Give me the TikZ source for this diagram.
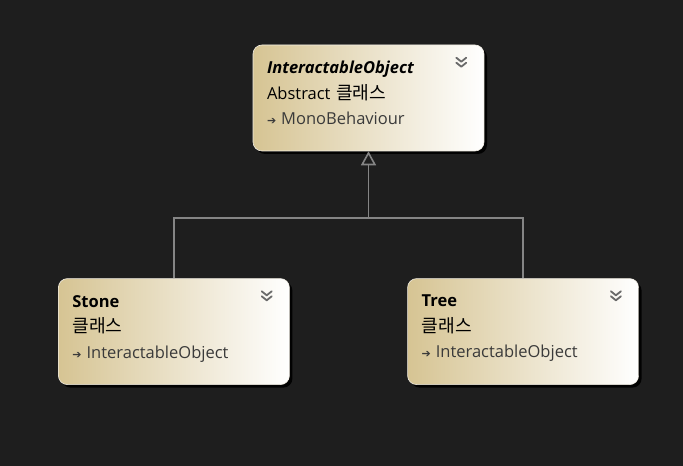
\documentclass[tikz,border=0pt]{standalone}
\usepackage{fontspec}
\setmainfont{Open Sans}
\newfontfamily\krfont[Scale=1.1]{Noto Sans CJK KR}
\newfontfamily\symfont{DejaVu Sans}
\usepackage{xcolor}
\usepackage{tikz}
\usetikzlibrary{arrows.meta,positioning,shadows}
\definecolor{diagbg}{HTML}{1E1E1E}
\definecolor{classtan}{HTML}{D6C493}
\definecolor{classedge}{HTML}{F2EEE4}
\definecolor{classgrey}{HTML}{3A3A3A}
\definecolor{linkgrey}{HTML}{858585}
\definecolor{chevgrey}{HTML}{6A6A6A}
\newcommand{\krtext}[1]{{\krfont #1}}
\newcommand{\basearrow}{{\symfont\fontsize{11}{11}\selectfont\color{classgrey}➔}\hspace{5pt}}
\newcommand{\liftstrut}{\rule[-10pt]{0pt}{1pt}}

\begin{document}
\begin{tikzpicture}[
    x=1pt, y=1pt,
    font=\fontsize{16.5}{25.5}\selectfont,
    classbox/.style={draw=classedge, line width=0.6pt, rounded corners=9pt,
      left color=classtan, right color=white,
      minimum width=231pt, minimum height=106pt, text width=203pt,
      align=left, inner sep=0pt,
      drop shadow={shadow xshift=3pt, shadow yshift=-3pt, fill=black, opacity=0.9}},
    inherit/.style={draw=linkgrey, line width=1.6pt},
    inherittip/.style={-{Triangle[open, length=14pt, width=15pt, line width=1.6pt, fill=diagbg]}},
    chevron/.style={draw=chevgrey, line width=1.8pt, line cap=round, line join=round}
  ]
    \fill[diagbg] (0,0) rectangle (683,466);
    \useasboundingbox (0,0) rectangle (683,466);

    \node[classbox] (base) at (368.5,368) {%
      \textbf{\textit{InteractableObject}}\\
      Abstract \krtext{클래스}\\
      \basearrow{\color{classgrey}MonoBehaviour}\liftstrut};
    \node[classbox, below left=127pt and -37pt of base] (stone) {%
      \textbf{Stone}\\
      \krtext{클래스}\\
      \basearrow{\color{classgrey}InteractableObject}\liftstrut};
    \node[classbox, below right=127pt and -77pt of base] (tree) {%
      \textbf{Tree}\\
      \krtext{클래스}\\
      \basearrow{\color{classgrey}InteractableObject}\liftstrut};

    % collapse chevrons
    \foreach \cls in {base,stone,tree}{
      \draw[chevron] ([shift={(-28,-13)}]\cls.north east) -- ++(5,-4) -- ++(5,4);
      \draw[chevron] ([shift={(-28,-18)}]\cls.north east) -- ++(5,-4) -- ++(5,4);
    }

    \coordinate (hub) at (base.south |- 0,248);
    \draw[inherit] (stone.north) |- (hub) -| (tree.north);
    \draw[inherit, inherittip] (hub) -- (base.south);
  \end{tikzpicture}
\end{document}
